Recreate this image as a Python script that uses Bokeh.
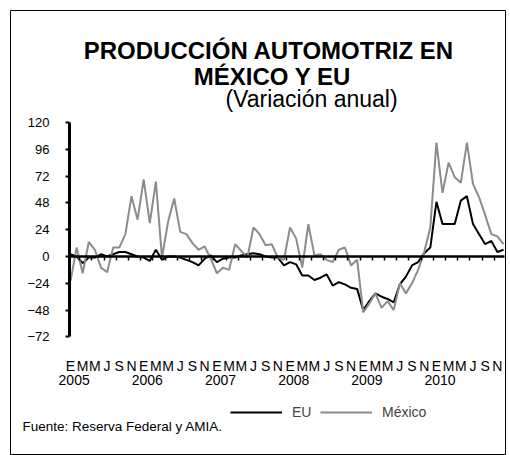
from bokeh.plotting import figure
from bokeh.models import Range1d, LinearAxis, FixedTicker, Legend, LegendItem, Label
from bokeh.embed import file_html
from bokeh.resources import INLINE

# ---- data (annual % change, monthly Jan-2005 .. Dec-2010) ----
month_index = list(range(72))
eu = [2, 0, -6, -1, -1, 2, 0, 2, 4, 4, 2, 0,
      -1, -4, 6, -3, 0, 0, -1, -3, -5, -8, -2, 1,
      -5, -2, -1, -1, 1, 2, 3, 2, 0, -1, -1, -8,
      -5, -7, -17, -17, -21, -19, -16, -26, -23, -25, -28, -29,
      -48, -40, -33, -36, -38, -41, -25, -18, -8, -5, 3, 8,
      49, 29, 29, 29, 50, 54, 29, 20, 11, 14, 4, 6]
mexico = [-22, 8, -15, 13, 6, -10, -14, 8, 8, 20, 54, 33,
          69, 30, 67, -1, 31, 52, 22, 20, 12, 6, 9, -2,
          -15, -10, -12, 11, 5, -1, 26, 20, 10, 11, -1, -3,
          26, 16, -10, 29, 1, 2, -3, -5, 6, 8, -8, -3,
          -50, -42, -33, -46, -40, -48, -24, -33, -24, -12, 4, 26,
          102, 57, 84, 71, 66, 102, 65, 53, 37, 20, 18, 11]
month_letters = ["E", "M", "M", "J", "S", "N"]
years = ["2005", "2006", "2007", "2008", "2009", "2010"]
y_ticks = [-72, -48, -24, 0, 24, 48, 72, 96, 120]

FONT = "Liberation Sans"
GRAY = "#8c8c8c"

W, H = 510, 455
p = figure(width=W, height=H, output_backend="svg", toolbar_location=None,
           x_axis_location=None, y_axis_location=None,
           x_range=Range1d(-9.838, 71.328), y_range=Range1d(-177.26, 220.23),
           min_border_left=10, min_border_right=5, min_border_top=10, min_border_bottom=1)
p.grid.visible = False
p.outline_line_color = "black"
p.outline_line_width = 1
p.background_fill_color = "white"
p.border_fill_color = "white"

# y axis at the left edge of the data area
ya = LinearAxis(fixed_location=-0.164, ticker=FixedTicker(ticks=y_ticks), bounds=(-72, 120))
ya.axis_line_width = 3
ya.axis_line_color = "black"
ya.major_tick_out = 4
ya.major_tick_in = 0
ya.major_tick_line_width = 2
ya.minor_tick_line_color = None
ya.major_label_standoff = 16
ya.major_label_text_font = FONT
ya.major_label_text_font_size = "13px"
ya.major_label_text_color = "black"
p.add_layout(ya, "left")

# series
r_eu = p.line(month_index, eu, line_color="black", line_width=2)
r_mx = p.line(month_index, mexico, line_color=GRAY, line_width=2)

# zero line axis with small tick marks
za = LinearAxis(fixed_location=0, bounds=(-0.164, 71.1),
                ticker=FixedTicker(ticks=[k + 1.5 for k in range(0, 70, 2)]))
za.axis_line_width = 2.5
za.axis_line_color = "black"
za.major_tick_out = 4
za.major_tick_in = 0
za.major_tick_line_width = 1.5
za.minor_tick_line_color = None
za.major_label_text_color = None
p.add_layout(za, "below")

# month letters
mticks = list(range(0, 72, 2))
ma = LinearAxis(fixed_location=-89.5, ticker=FixedTicker(ticks=mticks),
                major_label_overrides={t: month_letters[(t // 2) % 6] for t in mticks})
ma.axis_line_color = None
ma.major_tick_line_color = None
ma.minor_tick_line_color = None
ma.major_tick_out = 0
ma.major_tick_in = 0
ma.major_label_standoff = 2
ma.major_label_text_font = FONT
ma.major_label_text_font_size = "14px"
ma.major_label_text_color = "black"
p.add_layout(ma, "below")

# years
yticks_x = [12 * k + 0.6 for k in range(6)]
yra = LinearAxis(fixed_location=-104.7, ticker=FixedTicker(ticks=yticks_x),
                 major_label_overrides={t: years[k] for k, t in enumerate(yticks_x)})
yra.axis_line_color = None
yra.major_tick_line_color = None
yra.minor_tick_line_color = None
yra.major_tick_out = 0
yra.major_tick_in = 0
yra.major_label_standoff = 2
yra.major_label_text_font = FONT
yra.major_label_text_font_size = "14px"
yra.major_label_text_color = "black"
p.add_layout(yra, "below")

# legend
legend = Legend(items=[LegendItem(label="EU", renderers=[r_eu]),
                       LegendItem(label="México", renderers=[r_mx])],
                location=(220, 34), orientation="horizontal",
                glyph_width=52, glyph_height=14, label_standoff=10, spacing=8,
                padding=0, margin=0, border_line_color=None, background_fill_alpha=0,
                label_text_font=FONT, label_text_font_size="14px", label_height=14)
p.add_layout(legend)

# titles and source (screen units, relative to the frame's bottom-left corner)
def add_label(text, x, y, size, bold=False, align="center"):
    p.add_layout(Label(text=text, x=x, y=y, x_units="screen", y_units="screen",
                       text_font=FONT, text_font_size=size, text_align=align,
                       text_baseline="alphabetic", text_color="black",
                       text_font_style="bold" if bold else "normal"))

add_label("PRODUCCIÓN  AUTOMOTRIZ  EN", 265, 404, "24px", bold=True)
add_label("MÉXICO Y EU", 262, 378, "24px", bold=True)
add_label("(Variación anual)", 301, 356, "23px")
add_label("Fuente: Reserva Federal y AMIA.", 12, 28, "13.5px", align="left")

open("out.html", "w").write(file_html(p, INLINE))
